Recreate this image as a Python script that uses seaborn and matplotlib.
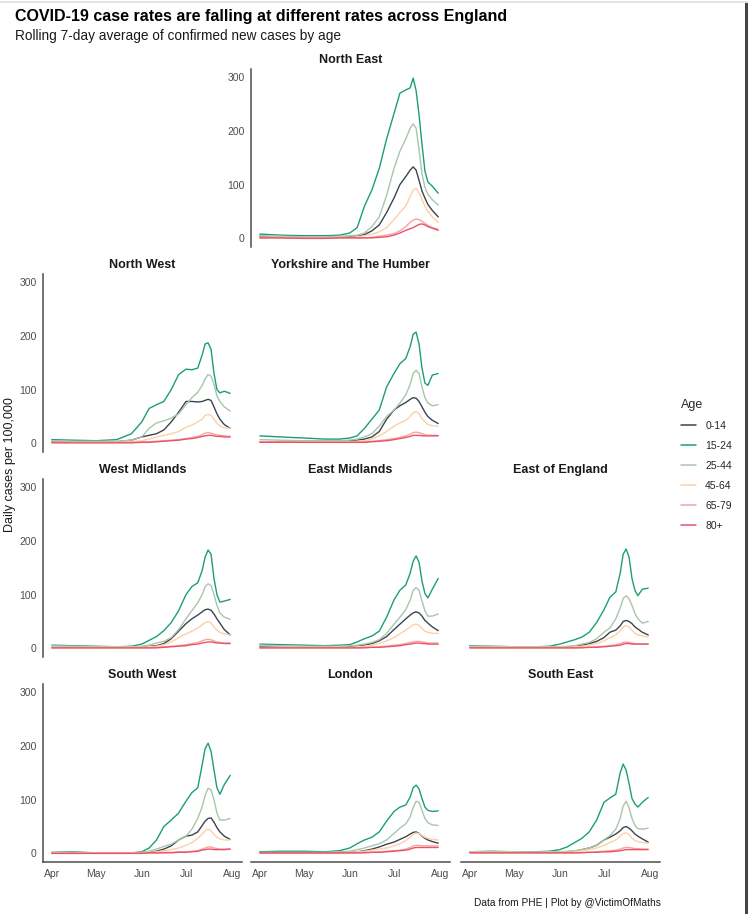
import pandas as pd
import matplotlib.pyplot as plt
import matplotlib.dates as mdates
from matplotlib.lines import Line2D
from matplotlib.patches import Rectangle
import seaborn as sns

# sample dates (7-day rolling averages)
dates = ["2021-04-01", "2021-04-15", "2021-05-01", "2021-05-15", "2021-05-25",
         "2021-06-01", "2021-06-06", "2021-06-11", "2021-06-16", "2021-06-21",
         "2021-06-26", "2021-07-01", "2021-07-05", "2021-07-09", "2021-07-12",
         "2021-07-14", "2021-07-16", "2021-07-18", "2021-07-20", "2021-07-22",
         "2021-07-24", "2021-07-27", "2021-07-31"]

ages = ["0-14", "15-24", "25-44", "45-64", "65-79", "80+"]
age_colours = ["#3c4350", "#1b9e77", "#a9c6a8", "#fdd0a6", "#f6a3a0", "#e8536a"]

north_east = {
    "0-14":  [3, 2, 1, 1, 2, 3, 4, 7, 14, 25, 48, 75, 100, 115, 127, 133, 127, 108, 88, 75, 63, 52, 40],
    "15-24": [8, 6, 5, 5, 6, 10, 20, 60, 90, 130, 185, 232, 270, 276, 280, 298, 275, 230, 175, 125, 105, 97, 84],
    "25-44": [5, 4, 3, 3, 4, 5, 6, 10, 22, 40, 80, 130, 162, 185, 205, 213, 205, 165, 120, 95, 82, 72, 62],
    "45-64": [2, 2, 1, 1, 2, 2, 3, 5, 8, 12, 20, 35, 48, 60, 78, 90, 93, 85, 72, 60, 50, 40, 30],
    "65-79": [1, 1, 1, 1, 1, 1, 1, 1, 2, 4, 6, 9, 14, 22, 30, 34, 36, 35, 32, 28, 24, 20, 17],
    "80+":   [1, 1, 0, 0, 1, 1, 1, 1, 1, 2, 3, 6, 10, 15, 18, 20, 23, 26, 27, 25, 22, 19, 15],
}
north_west = {
    "0-14":  [3, 3, 3, 3, 6, 12, 15, 18, 25, 40, 58, 78, 78, 77, 78, 80, 82, 80, 68, 55, 45, 35, 28],
    "15-24": [7, 6, 5, 7, 18, 40, 65, 72, 78, 100, 128, 138, 137, 140, 165, 185, 187, 175, 130, 100, 94, 97, 93],
    "25-44": [5, 4, 4, 4, 6, 12, 28, 38, 42, 47, 55, 72, 85, 95, 108, 120, 128, 125, 110, 88, 78, 68, 60],
    "45-64": [2, 2, 2, 2, 3, 5, 8, 12, 15, 18, 22, 30, 34, 40, 45, 52, 54, 52, 45, 37, 32, 29, 28],
    "65-79": [2, 2, 2, 2, 2, 3, 3, 4, 5, 6, 7, 9, 11, 13, 16, 19, 20, 19, 17, 16, 15, 14, 13],
    "80+":   [1, 1, 1, 1, 1, 2, 2, 3, 4, 5, 6, 8, 9, 11, 13, 14, 15, 15, 14, 13, 13, 12, 12],
}
yorkshire = {
    "0-14":  [3, 3, 3, 3, 4, 5, 6, 8, 12, 22, 45, 62, 70, 76, 82, 85, 84, 78, 68, 58, 50, 43, 37],
    "15-24": [14, 12, 10, 8, 8, 10, 14, 28, 45, 62, 105, 130, 148, 158, 180, 203, 207, 185, 140, 112, 108, 127, 130],
    "25-44": [7, 6, 5, 5, 5, 6, 8, 12, 18, 32, 50, 62, 75, 90, 110, 130, 136, 130, 105, 85, 75, 70, 72],
    "45-64": [3, 3, 3, 3, 3, 3, 4, 5, 8, 14, 22, 32, 38, 43, 50, 57, 59, 55, 46, 40, 35, 33, 32],
    "65-79": [3, 3, 2, 2, 2, 2, 2, 3, 4, 5, 7, 9, 11, 14, 17, 20, 21, 20, 18, 16, 15, 15, 15],
    "80+":   [2, 2, 2, 2, 2, 2, 2, 2, 3, 4, 5, 7, 9, 11, 13, 15, 15, 15, 14, 14, 14, 14, 14],
}
west_midlands = {
    "0-14":  [2, 2, 2, 2, 2, 3, 4, 5, 9, 18, 32, 46, 55, 62, 68, 72, 73, 71, 64, 55, 47, 35, 25],
    "15-24": [6, 5, 4, 3, 4, 8, 15, 22, 33, 48, 70, 100, 115, 122, 145, 170, 183, 175, 130, 100, 86, 88, 91],
    "25-44": [5, 4, 3, 3, 3, 4, 6, 10, 13, 20, 35, 55, 70, 85, 100, 115, 120, 117, 100, 80, 66, 58, 54],
    "45-64": [2, 2, 2, 2, 2, 2, 3, 4, 7, 12, 20, 27, 32, 38, 44, 48, 50, 47, 40, 34, 30, 27, 25],
    "65-79": [1, 1, 1, 1, 1, 1, 1, 2, 3, 4, 5, 7, 9, 11, 14, 16, 17, 16, 14, 12, 11, 10, 10],
    "80+":   [1, 1, 1, 1, 1, 1, 1, 1, 2, 3, 4, 5, 7, 8, 10, 11, 12, 12, 11, 10, 10, 9, 9],
}
east_midlands = {
    "0-14":  [3, 2, 2, 2, 2, 3, 4, 6, 9, 14, 22, 35, 45, 55, 62, 66, 68, 66, 60, 52, 47, 40, 33],
    "15-24": [8, 7, 6, 5, 6, 7, 12, 18, 23, 32, 58, 90, 108, 118, 140, 162, 172, 160, 125, 102, 94, 110, 130],
    "25-44": [6, 5, 4, 4, 4, 5, 6, 8, 11, 16, 28, 45, 58, 72, 90, 108, 113, 108, 88, 70, 60, 60, 64],
    "45-64": [2, 2, 2, 2, 2, 2, 3, 4, 6, 9, 14, 20, 27, 34, 40, 44, 45, 43, 37, 32, 30, 28, 28],
    "65-79": [1, 1, 1, 1, 1, 1, 1, 2, 2, 3, 4, 6, 7, 9, 11, 12, 13, 13, 12, 11, 10, 10, 10],
    "80+":   [1, 1, 1, 1, 1, 1, 1, 1, 2, 2, 3, 4, 5, 7, 8, 9, 10, 10, 9, 9, 8, 8, 8],
}
east_of_england = {
    "0-14":  [2, 2, 2, 2, 2, 2, 3, 4, 6, 9, 13, 20, 30, 34, 42, 50, 52, 50, 46, 40, 36, 30, 25],
    "15-24": [5, 4, 3, 3, 4, 8, 12, 16, 21, 30, 48, 72, 95, 105, 140, 175, 185, 170, 130, 108, 98, 110, 112],
    "25-44": [4, 4, 3, 3, 3, 3, 4, 5, 8, 11, 18, 30, 38, 55, 75, 93, 98, 92, 80, 65, 55, 47, 50],
    "45-64": [2, 2, 2, 2, 2, 2, 2, 3, 4, 6, 9, 14, 20, 25, 33, 40, 42, 40, 34, 28, 25, 23, 21],
    "65-79": [1, 1, 1, 1, 1, 1, 1, 1, 2, 2, 3, 4, 5, 7, 9, 11, 12, 11, 10, 9, 8, 8, 8],
    "80+":   [1, 1, 1, 1, 1, 1, 1, 1, 1, 2, 2, 3, 4, 5, 6, 8, 9, 9, 8, 8, 8, 8, 8],
}
south_west = {
    "0-14":  [1, 1, 1, 1, 1, 1, 2, 4, 8, 14, 25, 32, 34, 40, 52, 60, 65, 66, 58, 48, 40, 32, 26],
    "15-24": [2, 3, 1, 1, 1, 3, 10, 25, 50, 62, 75, 97, 113, 122, 165, 195, 205, 190, 155, 122, 110, 128, 145],
    "25-44": [2, 2, 1, 1, 1, 2, 4, 8, 13, 17, 25, 32, 45, 65, 87, 108, 121, 118, 100, 75, 62, 62, 65],
    "45-64": [1, 1, 1, 1, 1, 1, 2, 3, 5, 7, 10, 15, 20, 28, 36, 42, 45, 42, 35, 30, 27, 25, 25],
    "65-79": [1, 1, 1, 1, 1, 1, 1, 1, 2, 2, 3, 3, 4, 5, 8, 10, 12, 12, 10, 9, 8, 8, 8],
    "80+":   [0, 0, 0, 0, 0, 0, 1, 1, 1, 1, 2, 2, 3, 4, 6, 7, 8, 8, 7, 7, 7, 7, 8],
}
london = {
    "0-14":  [1, 1, 1, 1, 1, 2, 3, 5, 8, 12, 17, 21, 26, 31, 36, 39, 40, 37, 32, 28, 25, 22, 19],
    "15-24": [3, 4, 4, 3, 5, 10, 18, 25, 30, 40, 60, 78, 86, 90, 105, 122, 127, 120, 102, 86, 80, 78, 79],
    "25-44": [2, 2, 2, 2, 3, 4, 7, 10, 14, 18, 25, 37, 47, 55, 68, 85, 97, 95, 80, 65, 57, 53, 52],
    "45-64": [1, 1, 1, 1, 1, 2, 3, 4, 6, 8, 10, 14, 18, 24, 30, 36, 38, 37, 33, 30, 28, 26, 25],
    "65-79": [1, 1, 1, 1, 1, 1, 1, 2, 2, 3, 4, 5, 6, 8, 11, 14, 15, 15, 14, 14, 14, 14, 14],
    "80+":   [1, 1, 1, 1, 1, 1, 1, 1, 2, 2, 3, 4, 5, 6, 8, 10, 11, 11, 11, 11, 11, 11, 11],
}
south_east = {
    "0-14":  [2, 2, 2, 2, 2, 2, 3, 4, 7, 10, 15, 25, 30, 36, 42, 48, 50, 47, 42, 36, 32, 27, 21],
    "15-24": [3, 4, 3, 3, 4, 7, 12, 20, 28, 40, 62, 95, 103, 110, 150, 166, 155, 130, 102, 92, 86, 95, 104],
    "25-44": [3, 3, 3, 2, 3, 3, 4, 5, 7, 10, 15, 25, 33, 45, 65, 88, 97, 85, 65, 52, 46, 45, 47],
    "45-64": [2, 2, 2, 2, 2, 2, 2, 3, 5, 7, 10, 15, 20, 25, 32, 37, 38, 35, 28, 24, 22, 20, 19],
    "65-79": [1, 1, 1, 1, 1, 1, 1, 1, 2, 2, 3, 4, 5, 6, 8, 10, 11, 11, 10, 9, 9, 8, 8],
    "80+":   [1, 1, 1, 1, 1, 1, 1, 1, 1, 2, 2, 3, 3, 4, 5, 6, 7, 7, 7, 7, 7, 7, 7],
}

# region, data, grid row, grid col (geographic layout)
layout = [
    ("North East", north_east, 0, 1),
    ("North West", north_west, 1, 0),
    ("Yorkshire and The Humber", yorkshire, 1, 1),
    ("West Midlands", west_midlands, 2, 0),
    ("East Midlands", east_midlands, 2, 1),
    ("East of England", east_of_england, 2, 2),
    ("South West", south_west, 3, 0),
    ("London", london, 3, 1),
    ("South East", south_east, 3, 2),
]

sns.set_style("white")
plt.rcParams['font.family'] = ['Liberation Sans', 'DejaVu Sans']

W, H = 748, 914
fig = plt.figure(figsize=(W / 100, H / 100), dpi=100)

col_left = [43, 251, 461]
row_bottom = [247, 452, 657, 862]
pw, ph = 199, 178
axis_col = '#4d4d4d'

x_lo = pd.Timestamp("2021-04-01") - pd.Timedelta(days=6)
x_hi = pd.Timestamp("2021-08-01") + pd.Timedelta(days=7)

handles, labels = None, None
for name, vals, row, col in layout:
    ax = fig.add_axes([col_left[col] / W, 1 - row_bottom[row] / H, pw / W, ph / H])
    frames = []
    for age in ages:
        frames.append(pd.DataFrame({"date": pd.to_datetime(dates), "cases": vals[age], "Age": age}))
    df = pd.concat(frames, ignore_index=True)

    sns.lineplot(data=df, x="date", y="cases", hue="Age", hue_order=ages,
                 palette=age_colours, estimator=None, linewidth=1.0, ax=ax,
                 legend=(handles is None))
    if handles is None:
        handles, labels = ax.get_legend_handles_labels()
        ax.get_legend().remove()

    ax.set_xlim(x_lo, x_hi)
    ax.set_ylim(-16, 315)
    ax.set_xlabel("")
    ax.set_ylabel("")
    ax.set_title(name, fontsize=9, fontweight='bold', color='#1a1a1a', pad=4)
    ax.set_yticks([0, 100, 200, 300])
    ax.xaxis.set_major_locator(mdates.MonthLocator())
    ax.xaxis.set_major_formatter(mdates.DateFormatter('%b'))

    for s in ['top', 'right', 'left', 'bottom']:
        ax.spines[s].set_visible(False)

    show_y = (col == 0) or name == "North East"
    show_x = (row == 3)
    if show_y:
        ax.spines['left'].set_visible(True)
        ax.spines['left'].set_color(axis_col)
        ax.spines['left'].set_linewidth(1.1)
        ax.tick_params(axis='y', length=3, width=0.8, color=axis_col,
                       labelsize=7.5, labelcolor='#4d4d4d', pad=1.5)
    else:
        ax.tick_params(axis='y', left=False, labelleft=False)
    if show_x:
        ax.spines['bottom'].set_visible(True)
        ax.spines['bottom'].set_color(axis_col)
        ax.spines['bottom'].set_linewidth(1.1)
        ax.tick_params(axis='x', length=3, width=0.8, color=axis_col,
                       labelsize=7.5, labelcolor='#4d4d4d', pad=2)
    else:
        ax.tick_params(axis='x', bottom=False, labelbottom=False)

# titles and annotations
fig.text(15 / W, 1 - 21 / H, "COVID-19 case rates are falling at different rates across England",
         fontsize=11.5, fontweight='bold', color='black', ha='left', va='baseline')
fig.text(15 / W, 1 - 40 / H, "Rolling 7-day average of confirmed new cases by age",
         fontsize=9.8, color='#1a1a1a', ha='left', va='baseline')
fig.text(10 / W, 1 - 465 / H, "Daily cases per 100,000", fontsize=9, color='#1a1a1a',
         rotation=90, ha='center', va='center')
fig.text(661 / W, 1 - 906 / H, "Data from PHE | Plot by @VictimOfMaths",
         fontsize=7.3, color='#1a1a1a', ha='right', va='baseline')

leg = fig.legend(handles, labels, title="Age", loc='upper left',
                 bbox_to_anchor=(676 / W, 1 - 394 / H), frameon=False,
                 fontsize=7.5, title_fontsize=9, handlelength=1.4,
                 handletextpad=0.9, labelspacing=0.95, borderpad=0,
                 alignment='left')
for line in leg.get_lines():
    line.set_linewidth(1.1)

# screenshot frame edges
fig.add_artist(Line2D([0, 1], [1 - 2 / H, 1 - 2 / H], color='#dddddd', lw=1.2))
fig.add_artist(Rectangle((745 / W, 0), 3 / W, 1 - 3 / H, color='#444444', lw=0))

fig.savefig("out.png", dpi=100)
